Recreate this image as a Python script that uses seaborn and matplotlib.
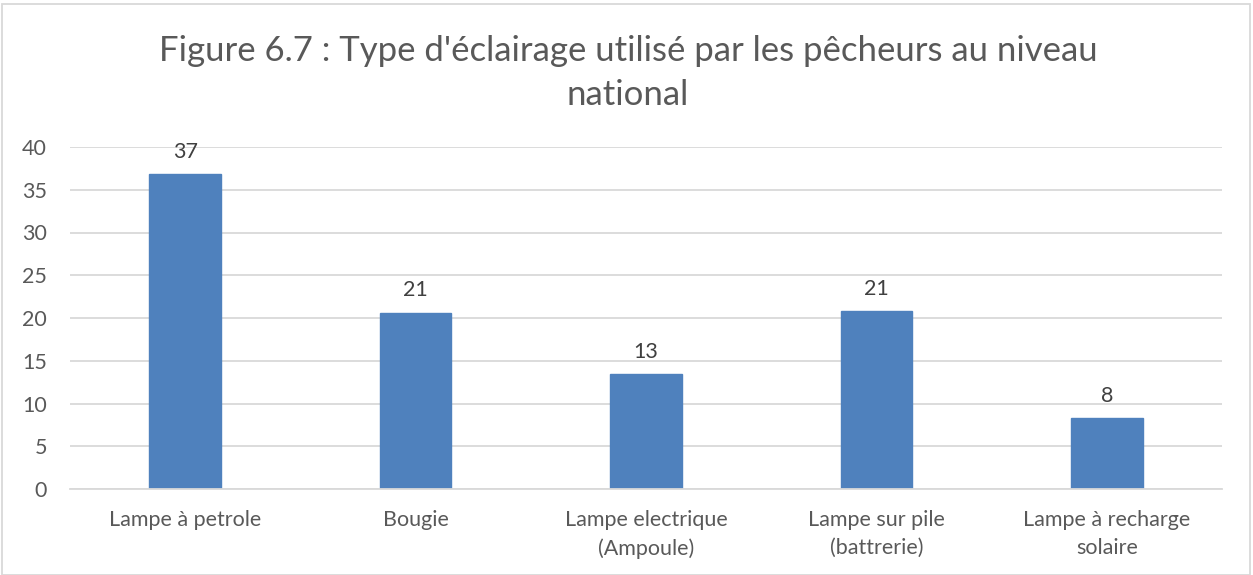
import matplotlib
matplotlib.use("Agg")
import matplotlib.pyplot as plt
import seaborn as sns
import pandas as pd
from matplotlib.patches import Rectangle

categories = ["Lampe à petrole", "Bougie", "Lampe electrique\n(Ampoule)",
              "Lampe sur pile\n(battrerie)", "Lampe à recharge\nsolaire"]
values = [36.8, 20.6, 13.4, 20.8, 8.3]
yticks = [0, 5, 10, 15, 20, 25, 30, 35, 40]
title = "Figure 6.7 : Type d'éclairage utilisé par les pêcheurs au niveau\nnational"

df = pd.DataFrame({"cat": categories, "val": values})

sns.set_theme(style="white")
plt.rcParams['font.family'] = ['Lato', 'DejaVu Sans']

fig = plt.figure(figsize=(12.53, 5.75), dpi=100)
ax = fig.add_axes([70/1253, 1 - 489/575, (1222-70)/1253, (489-147)/575])

sns.barplot(data=df, x="cat", y="val", color="#4F81BD", width=0.31, ax=ax,
            saturation=1, edgecolor="#4F81BD")

ax.set_ylim(0, 40)
ax.set_xlim(-0.5, len(categories) - 0.5)
ax.set_yticks(yticks)
ax.set_yticklabels([str(t) for t in yticks])
ax.yaxis.grid(True, color="#D9D9D9", linewidth=1.3)
ax.set_axisbelow(True)
for s in ["top", "right", "left"]:
    ax.spines[s].set_visible(False)
ax.spines["bottom"].set_color("#D9D9D9")
ax.spines["bottom"].set_linewidth(1.3)
ax.tick_params(axis="x", length=0, labelsize=15.5, colors="#595959", pad=15)
ax.tick_params(axis="y", length=0, labelsize=15.5, colors="#595959", pad=16.5)
for lbl in ax.get_xticklabels():
    lbl.set_linespacing(1.5)
ax.set_xlabel("")
ax.set_ylabel("")

for p, v in zip(ax.patches, values):
    ax.annotate(f"{v:.0f}", (p.get_x() + p.get_width() / 2, p.get_height()),
                xytext=(0, 9), textcoords="offset points", ha="center", va="bottom",
                fontsize=15.5, color="#404040")

fig.text(628/1253, 1 - 73/575, title, ha="center", va="center", fontsize=25,
         color="#595959", linespacing=1.45)

fig.patches.append(Rectangle((2/1253, 0), 1 - 5/1253, 1 - 4/575, transform=fig.transFigure,
                             fill=False, edgecolor="#D9D9D9", linewidth=1.3))

fig.savefig("out.png", dpi=100)
